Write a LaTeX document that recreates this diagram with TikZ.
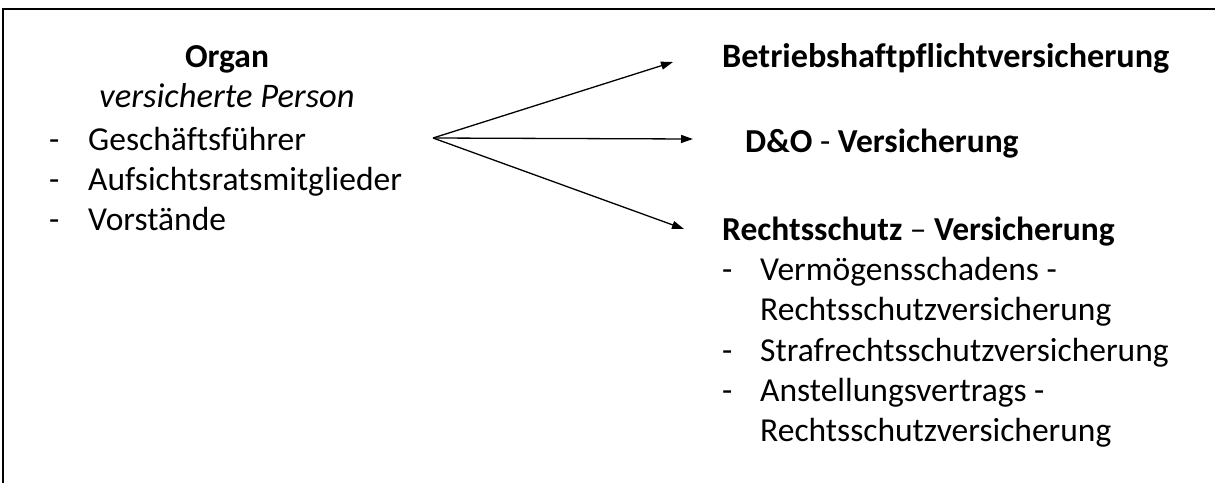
\documentclass[tikz,border=0pt]{standalone}
\usepackage{fontspec}
\setmainfont[Ligatures=CommonOff]{Carlito}
\usetikzlibrary{arrows.meta}
\begin{document}
\begin{tikzpicture}[x=1pt,y=-1pt,
  fs/.style={font=\fontsize{33.5}{40}\selectfont},
  txt/.style={inner sep=0pt,anchor=base west,fs},
  ctr/.style={inner sep=0pt,anchor=base},
  bld/.style={txt,font=\fontsize{33.5}{40}\selectfont\bfseries},
  arr/.style={line width=1.3pt,-{Triangle[length=12pt,width=8pt]}}]
\useasboundingbox (0,0) rectangle (1215,483);
\fill[white] (0,0) rectangle (1215,483);
\draw[line width=2.5pt] (3,483) -- (3,9) -- (1215,9);
% left block
\node[ctr,font=\fontsize{33.5}{40}\selectfont\bfseries] (organ) at (227,67) {Organ};
\node[ctr,font=\fontsize{34.5}{40}\selectfont\itshape] (vp) at (227,107) {versicherte Person};
\node[txt] (d1) at (49,150) {-};
\node[txt] (l1) at (88,150) {Geschäftsführer};
\node[txt] (d2) at (49,190) {-};
\node[txt] (l2) at (88,190) {Aufsichtsratsmitglieder};
\node[txt] (d3) at (49,230) {-};
\node[txt] (l3) at (88,230) {Vorstände};
% right block
\node[bld,font=\fontsize{34.2}{40}\selectfont\bfseries] (bhv) at (722,67) {Betriebshaftpflichtversicherung};
\node[txt] (dov) at (745,152) {\bfseries D\&O \mdseries- \bfseries Versicherung};
\node[bld] (rsv) at (722,240) {Rechtsschutz \mdseries–\bfseries{} Versicherung};
\node[txt] (e1) at (722,280) {-};
\node[txt] (r1) at (760,280) {Vermögensschadens -};
\node[txt] (r1b) at (760,320) {Rechtsschutzversicherung};
\node[txt] (e2) at (722,361) {-};
\node[txt] (r2) at (760,361) {Strafrechtsschutzversicherung};
\node[txt] (e3) at (722,401) {-};
\node[txt] (r3) at (760,401) {Anstellungsvertrags -};
\node[txt] (r3b) at (760,441) {Rechtsschutzversicherung};
% arrows
\coordinate (src) at (433,138);
\coordinate (t1) at (673,62);
\coordinate (t2) at (693,139);
\coordinate (t3) at (684,229);
\draw[arr] (src) -- (t1);
\draw[arr] (src) -- (t2);
\draw[arr] (src) -- (t3);
\end{tikzpicture}
\end{document}
